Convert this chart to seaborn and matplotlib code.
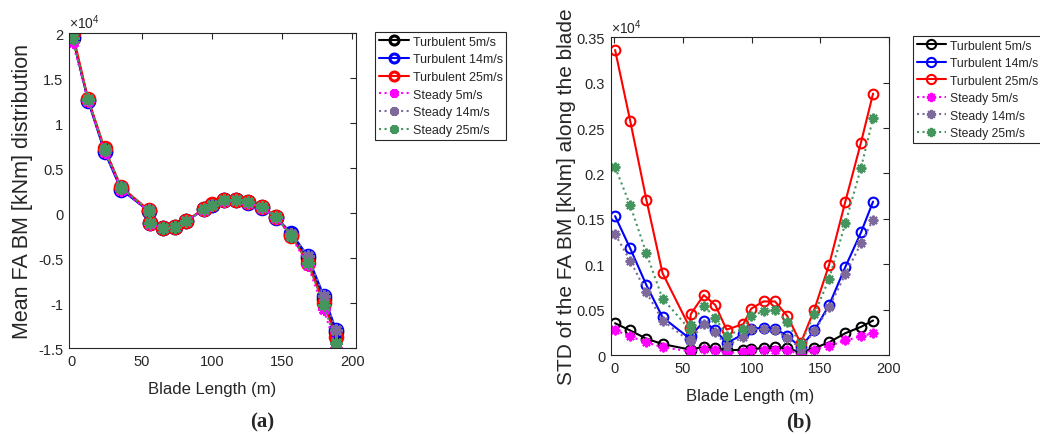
import matplotlib
matplotlib.use("Agg")
import matplotlib.pyplot as plt
from matplotlib.ticker import FuncFormatter
import seaborn as sns
import pandas as pd

# ---------------- data (values in units of 1e4 kNm) ----------------
blade_x = [0.5, 11.5, 23.3, 35.1, 55.0, 55.6, 65.1, 73.5, 81.7, 93.9,
           99.6, 108.6, 117.0, 125.9, 135.7, 145.6, 156.4, 168.2, 179.6, 188.4]

series_names = ["Turbulent 5m/s", "Turbulent 14m/s", "Turbulent 25m/s",
                "Steady 5m/s", "Steady 14m/s", "Steady 25m/s"]

mean_turb5 = [1.95, 1.26, 0.69, 0.27, 0.02, -0.11, -0.17, -0.155, -0.09, 0.04,
              0.09, 0.14, 0.145, 0.12, 0.065, -0.045, -0.24, -0.50, -0.95, -1.32]
mean_turb14 = [1.96, 1.25, 0.68, 0.26, 0.02, -0.11, -0.165, -0.15, -0.09, 0.04,
               0.09, 0.14, 0.15, 0.115, 0.06, -0.05, -0.22, -0.48, -0.92, -1.30]
mean_turb25 = [2.00, 1.27, 0.72, 0.29, 0.03, -0.11, -0.165, -0.155, -0.085, 0.045,
               0.095, 0.145, 0.15, 0.12, 0.07, -0.04, -0.25, -0.55, -1.00, -1.38]
mean_steady5 = [1.90, 1.25, 0.68, 0.26, 0.02, -0.12, -0.17, -0.16, -0.09, 0.035,
                0.085, 0.135, 0.14, 0.11, 0.06, -0.05, -0.26, -0.58, -1.07, -1.50]
mean_steady14 = [1.95, 1.26, 0.70, 0.29, 0.03, -0.11, -0.165, -0.15, -0.09, 0.04,
                 0.09, 0.14, 0.148, 0.12, 0.065, -0.045, -0.23, -0.48, -0.92, -1.30]
mean_steady25 = [1.94, 1.27, 0.71, 0.28, 0.02, -0.11, -0.165, -0.155, -0.09, 0.04,
                 0.09, 0.14, 0.148, 0.12, 0.065, -0.045, -0.25, -0.55, -1.02, -1.44]

std_turb5 = [0.035, 0.027, 0.018, 0.012, 0.006, 0.006, 0.009, 0.0075, 0.005, 0.006,
             0.0065, 0.0077, 0.009, 0.0075, 0.003, 0.0075, 0.014, 0.024, 0.031, 0.038]
std_turb14 = [0.153, 0.1175, 0.077, 0.0415, 0.018, 0.021, 0.037, 0.0275, 0.013, 0.023,
              0.029, 0.030, 0.029, 0.021, 0.0085, 0.027, 0.055, 0.097, 0.135, 0.169]
std_turb25 = [0.336, 0.258, 0.171, 0.090, 0.030, 0.045, 0.066, 0.055, 0.028, 0.034,
              0.051, 0.059, 0.059, 0.043, 0.013, 0.050, 0.0995, 0.169, 0.234, 0.288]
std_steady5 = [0.0275, 0.0205, 0.014, 0.0085, 0.004, 0.005, 0.0065, 0.006, 0.002, 0.0037,
               0.005, 0.006, 0.006, 0.005, 0.001, 0.006, 0.010, 0.016, 0.0205, 0.024]
std_steady14 = [0.133, 0.104, 0.069, 0.038, 0.015, 0.017, 0.034, 0.025, 0.010, 0.020,
                0.029, 0.029, 0.0275, 0.019, 0.007, 0.026, 0.0525, 0.089, 0.123, 0.149]
std_steady25 = [0.207, 0.165, 0.112, 0.062, 0.028, 0.033, 0.054, 0.041, 0.021, 0.029,
                0.043, 0.048, 0.050, 0.036, 0.012, 0.045, 0.084, 0.145, 0.206, 0.261]

mean_series = [mean_turb5, mean_turb14, mean_turb25, mean_steady5, mean_steady14, mean_steady25]
std_series = [std_turb5, std_turb14, std_turb25, std_steady5, std_steady14, std_steady25]

x_ticks = [0, 50, 100, 150, 200]
mean_yticks = [-1.5, -1, -0.5, 0, 0.5, 1, 1.5, 2]
std_yticks = [0, 0.05, 0.1, 0.15, 0.2, 0.25, 0.3, 0.35]

# ---------------- styles ----------------
colors = ["black", "blue", "red", "magenta", "#7d6a9b", "#45955f"]
linestyles = ["-", "-", "-", ":", ":", ":"]
markers = ["o", "o", "o", (8, 2, 0), (8, 2, 0), (8, 2, 0)]

sns.set_style("white")
plt.rcParams["font.family"] = ["Liberation Sans", "DejaVu Sans"]
plt.rcParams["mathtext.fontset"] = "custom"
plt.rcParams["mathtext.rm"] = "Liberation Sans"

TXT = "#262626"
fig = plt.figure(figsize=(10.4, 4.35), dpi=100)
ax1 = fig.add_axes([0.0663, 0.1977, 0.2760, 0.7241])
ax2 = fig.add_axes([0.5872, 0.1816, 0.2676, 0.7304])


def draw(ax, values, ms, mew):
    for name, vals, c, ls, mk in zip(series_names, values, colors, linestyles, markers):
        df = pd.DataFrame({"x": blade_x, "y": vals})
        sns.lineplot(data=df, x="x", y="y", ax=ax, color=c, linestyle=ls,
                     marker=mk, markersize=ms, markeredgewidth=mew,
                     markerfacecolor="none" if mk == "o" else c,
                     markeredgecolor=c, linewidth=1.5, estimator=None,
                     sort=False, label=name, legend=False)


draw(ax1, mean_series, 9, 2.2)
draw(ax2, std_series, 7, 1.5)

fmt = FuncFormatter(lambda v, p: f"{v:g}")
for ax, yt, xl, yl in [(ax1, mean_yticks, (-2.1, 202.6), (-1.5, 2.0)),
                       (ax2, std_yticks, (-2.7, 200), (0, 0.35))]:
    ax.set_xlim(*xl)
    ax.set_ylim(*yl)
    ax.set_xticks(x_ticks)
    ax.set_yticks(yt)
    ax.xaxis.set_major_formatter(fmt)
    ax.yaxis.set_major_formatter(fmt)
    ax.tick_params(direction="in", top=True, right=True, length=4,
                   width=0.8, colors=TXT, labelsize=10.5, pad=4)
    for s in ax.spines.values():
        s.set_color(TXT)
        s.set_linewidth(0.8)
    ax.set_xlabel("Blade Length (m)", fontsize=12, color=TXT)
    ax.text(0.0, 1.005, r"$\times10^{4}$", transform=ax.transAxes,
            fontsize=10, color=TXT, ha="left", va="bottom")

ax1.set_ylabel("Mean FA BM [kNm] distribution", fontsize=15.5, color=TXT)
ax2.set_ylabel("STD of the FA BM [kNm] along the blade", fontsize=15, color=TXT)
ax1.yaxis.set_label_coords(-0.126, 0.5)
ax2.yaxis.set_label_coords(-0.124, 0.5)
ax1.xaxis.set_label_coords(0.5, -0.105)
ax2.xaxis.set_label_coords(0.5, -0.105)

for ax, anchor, msc, fs in [(ax1, (0.3606, 0.924), 0.72, 9), (ax2, (0.878, 0.915), 0.95, 8.8)]:
    h, l = ax.get_legend_handles_labels()
    leg = ax.legend(h, l, loc="upper left", bbox_to_anchor=anchor,
                    bbox_transform=fig.transFigure, borderaxespad=0,
                    fancybox=False, framealpha=1, edgecolor=TXT,
                    fontsize=fs, handlelength=2.4, labelspacing=0.45,
                    handletextpad=0.3, borderpad=0.3, markerscale=msc)
    leg.get_frame().set_linewidth(0.8)

fig.text(262 / 1040, 1 - 422 / 435, "(a)", ha="center", va="center",
         fontsize=15, fontweight="bold", family="Liberation Serif")
fig.text(799 / 1040, 1 - 422 / 435, "(b)", ha="center", va="center",
         fontsize=15, fontweight="bold", family="Liberation Serif")

fig.savefig("out.png", dpi=100)
